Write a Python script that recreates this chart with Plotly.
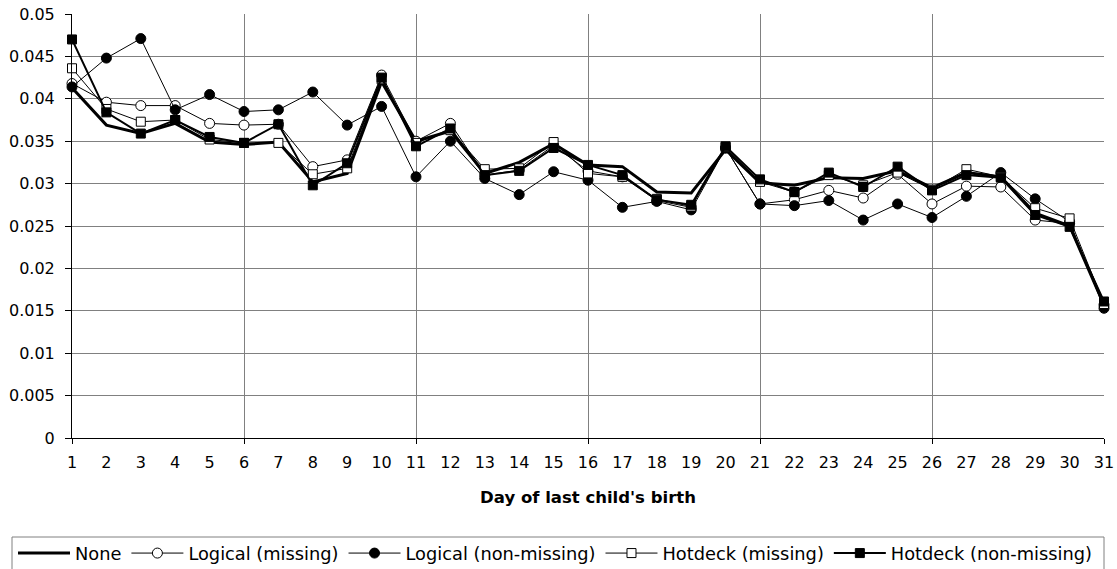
import plotly.graph_objects as go

days = list(range(1, 32))
day_labels = [str(d) for d in days]
grid_days = days[::5]

none_vals = [0.0413, 0.0369, 0.0359, 0.0371, 0.0349, 0.0346, 0.0349, 0.0302, 0.0312, 0.0420,
             0.0350, 0.0362, 0.0312, 0.0325, 0.0347, 0.0322, 0.0320, 0.0290, 0.0289, 0.0340,
             0.0301, 0.0298, 0.0307, 0.0306, 0.0315, 0.0295, 0.0313, 0.0308, 0.0265, 0.0250, 0.0157]
logical_missing = [0.0418, 0.0396, 0.0392, 0.0392, 0.0371, 0.0369, 0.0370, 0.0320, 0.0328, 0.0428,
                   0.0350, 0.0371, 0.0310, 0.0316, 0.0345, 0.0315, 0.0308, 0.0280, 0.0272, 0.0342,
                   0.0276, 0.0281, 0.0292, 0.0283, 0.0311, 0.0276, 0.0297, 0.0296, 0.0257, 0.0253, 0.0157]
logical_nonmissing = [0.0414, 0.0448, 0.0471, 0.0387, 0.0405, 0.0385, 0.0387, 0.0408, 0.0369, 0.0391,
                      0.0308, 0.0350, 0.0306, 0.0287, 0.0314, 0.0304, 0.0272, 0.0279, 0.0269, 0.0342,
                      0.0276, 0.0274, 0.0280, 0.0257, 0.0276, 0.0260, 0.0285, 0.0313, 0.0282, 0.0255, 0.0153]
hotdeck_missing = [0.0436, 0.0388, 0.0373, 0.0375, 0.0352, 0.0348, 0.0348, 0.0311, 0.0318, 0.0423,
                   0.0348, 0.0363, 0.0317, 0.0318, 0.0349, 0.0312, 0.0308, 0.0282, 0.0273, 0.0343,
                   0.0302, 0.0290, 0.0310, 0.0298, 0.0313, 0.0293, 0.0317, 0.0308, 0.0271, 0.0259, 0.0158]
hotdeck_nonmissing = [0.0470, 0.0384, 0.0359, 0.0375, 0.0355, 0.0348, 0.0370, 0.0298, 0.0324, 0.0425,
                      0.0344, 0.0365, 0.0310, 0.0315, 0.0342, 0.0322, 0.0310, 0.0281, 0.0275, 0.0344,
                      0.0305, 0.0290, 0.0313, 0.0296, 0.0320, 0.0292, 0.0310, 0.0307, 0.0263, 0.0249, 0.0161]

y_ticks = [0, 0.005, 0.01, 0.015, 0.02, 0.025, 0.03, 0.035, 0.04, 0.045, 0.05]
y_labels = ["0", "0.005", "0.01", "0.015", "0.02", "0.025", "0.03", "0.035", "0.04", "0.045", "0.05"]

FONT = "DejaVu Sans"
GRID = "#808080"

fig = go.Figure()
# carrier for the gridline / tick-mark axis (every 5th day); draws nothing
fig.add_trace(go.Scatter(x=grid_days, y=[None] * len(grid_days), xaxis="x2", mode="lines",
                         showlegend=False, hoverinfo="skip"))
fig.add_trace(go.Scatter(x=days, y=none_vals, name="None", mode="lines",
                         line=dict(color="black", width=3), cliponaxis=False))
fig.add_trace(go.Scatter(x=days, y=logical_missing, name="Logical (missing)", mode="lines+markers",
                         line=dict(color="black", width=1),
                         marker=dict(symbol="circle", size=10, color="white",
                                     line=dict(color="black", width=1)), cliponaxis=False))
fig.add_trace(go.Scatter(x=days, y=logical_nonmissing, name="Logical (non-missing)", mode="lines+markers",
                         line=dict(color="black", width=1),
                         marker=dict(symbol="circle", size=10, color="black",
                                     line=dict(color="black", width=1)), cliponaxis=False))
fig.add_trace(go.Scatter(x=days, y=hotdeck_missing, name="Hotdeck (missing)", mode="lines+markers",
                         line=dict(color="black", width=1),
                         marker=dict(symbol="square", size=9, color="white",
                                     line=dict(color="black", width=1)), cliponaxis=False))
fig.add_trace(go.Scatter(x=days, y=hotdeck_nonmissing, name="Hotdeck (non-missing)", mode="lines+markers",
                         line=dict(color="black", width=2),
                         marker=dict(symbol="square", size=9, color="black",
                                     line=dict(color="black", width=1)), cliponaxis=False))

fig.update_layout(
    width=1117, height=569,
    margin=dict(l=72, r=13, t=14, b=131, autoexpand=False),
    paper_bgcolor="white", plot_bgcolor="white",
    font=dict(family=FONT, size=16, color="black"),
    showlegend=True,
    legend=dict(orientation="h", x=(13 - 72) / 1032, xanchor="left",
                y=(438 - 535) / 424, yanchor="top",
                bgcolor="rgba(0,0,0,0)", borderwidth=0,
                itemwidth=52, font=dict(family=FONT, size=17.8, color="black")),
    xaxis=dict(range=[1, 31], tickmode="array", tickvals=days, ticktext=day_labels,
               ticks="", showgrid=False, zeroline=False,
               showline=True, linecolor="black", linewidth=1,
               ticklabelstandoff=10,
               tickfont=dict(family=FONT, size=16, color="black"),
               title=dict(text="Day of last child's birth",
                          font=dict(family=FONT, size=16.5, color="black", weight="bold"),
                          standoff=20)),
    xaxis2=dict(range=[1, 31], overlaying="x", anchor="y", side="bottom",
                tickmode="array", tickvals=grid_days, showticklabels=False,
                ticks="outside", ticklen=5, tickcolor="black",
                showgrid=True, gridcolor=GRID, gridwidth=1, zeroline=False, showline=False),
    yaxis=dict(range=[0, 0.05], tickmode="array", tickvals=y_ticks, ticktext=y_labels,
               ticks="outside", ticklen=6, tickcolor="black",
               showgrid=True, gridcolor=GRID, gridwidth=1, zeroline=False,
               showline=True, linecolor="black", linewidth=1,
               ticklabelstandoff=7,
               tickfont=dict(family=FONT, size=16, color="black")),
    shapes=[dict(type="rect", xref="paper", yref="paper",
                 x0=(12 - 72) / 1032, x1=1.0, y0=(438 - 537) / 424, y1=(438 - 600) / 424,
                 line=dict(color=GRID, width=1), fillcolor="rgba(0,0,0,0)", layer="below")],
)

fig.write_html("out.html")
